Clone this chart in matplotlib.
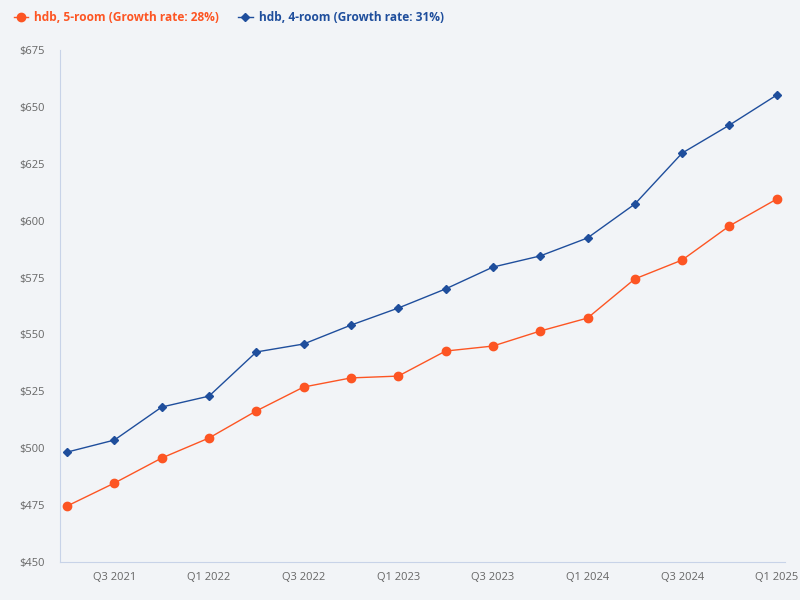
import numpy as np
import matplotlib.pyplot as plt

plt.rcParams['font.family'] = ['Open Sans', 'DejaVu Sans']

quarters = ['Q2 2021', 'Q3 2021', 'Q4 2021', 'Q1 2022', 'Q2 2022', 'Q3 2022',
            'Q4 2022', 'Q1 2023', 'Q2 2023', 'Q3 2023', 'Q4 2023', 'Q1 2024',
            'Q2 2024', 'Q3 2024', 'Q4 2024', 'Q1 2025']
five_room = [474.6, 484.7, 495.7, 504.5, 516.4, 526.9, 530.9, 531.7,
             542.7, 544.9, 551.5, 557.2, 574.4, 582.7, 597.7, 609.5]
four_room = [498.3, 503.6, 518.1, 522.9, 542.3, 545.8, 554.1, 561.6,
             570.0, 579.6, 584.5, 592.4, 607.3, 629.7, 642.0, 655.2]

bg = '#f2f4f7'
orange = '#fd5523'
blue = '#1f4e9c'

fig = plt.figure(figsize=(8, 6), dpi=100, facecolor=bg)
ax = fig.add_axes([0.075, 0.0633, 0.906, 0.8534], facecolor=bg)

x = np.arange(len(quarters))
ax.plot(x, five_room, color=orange, lw=1, marker='o', ms=6,
        label='hdb, 5-room (Growth rate: 28%)')
ax.plot(x, four_room, color=blue, lw=1, marker='D', ms=4,
        label='hdb, 4-room (Growth rate: 31%)')

ax.set_xlim(-0.15, 15.17)
ax.set_ylim(450, 675)
ax.set_yticks(np.arange(450, 676, 25))
ax.set_yticklabels([f'${v}' for v in range(450, 676, 25)])
ax.set_xticks(x[1::2])
ax.set_xticklabels(quarters[1::2])
ax.tick_params(length=0, labelsize=8, colors='#666666')
ax.tick_params(axis='y', pad=11)
ax.tick_params(axis='x', pad=7)

for s in ['top', 'right']:
    ax.spines[s].set_visible(False)
for s in ['left', 'bottom']:
    ax.spines[s].set_color('#c8d3e8')

leg = fig.legend(loc='upper left', bbox_to_anchor=(0.004, 1.0), ncol=2,
                 frameon=False, handlelength=1.2,
                 handletextpad=0.5, columnspacing=1.6, labelcolor='linecolor',
                 prop={'weight': 'bold', 'size': 8.6})

fig.savefig('out.png', facecolor=bg)
